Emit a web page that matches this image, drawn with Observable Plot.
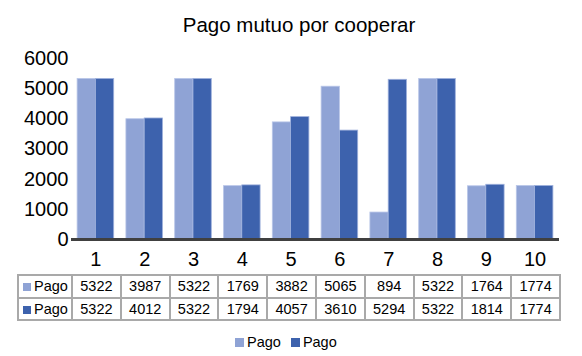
<!DOCTYPE html>
<html>
<head>
<meta charset="utf-8">
<script src="https://cdn.jsdelivr.net/npm/d3@7"></script>
<script src="https://cdn.jsdelivr.net/npm/@observablehq/plot@0.6"></script>
<style>
  html, body { margin: 0; padding: 0; background: #fff; }
  body { font-family: "Liberation Sans", Arial, sans-serif; }
  #wrap { position: relative; width: 582px; height: 356px; overflow: hidden; }
  #title { position: absolute; left: 8px; top: 11px; width: 582px; height: 28px; line-height: 28px; text-align: center; font-size: 20.5px; color: #000; }
  #chart { position: absolute; left: 0; top: 37px; }
  #table { position: absolute; left: 17px; top: 274px; border-collapse: collapse; table-layout: fixed; font-size: 14.5px; }
  #table td { border: 2px solid #a9a9a9; height: 20.5px; padding: 0; text-align: center; color: #000; white-space: nowrap; }
  #table td.lab { text-align: left; padding-left: 4px; }
  .sw { display: inline-block; width: 8px; height: 8px; margin-right: 3px; vertical-align: 0px; }
  #legend { position: absolute; left: 235px; top: 333px; font-size: 14.5px; line-height: 18px; white-space: nowrap; }
  #legend span.item { margin-right: 10px; }
  #legend .sw { width: 9px; height: 9px; margin-right: 3px; }
</style>
</head>
<body>
<div id="wrap">
  <div id="title"></div>
  <div id="chart"></div>
  <table id="table"></table>
  <div id="legend"></div>
</div>
<script>
const titleText = "Pago mutuo por cooperar";
const categories = ["1", "2", "3", "4", "5", "6", "7", "8", "9", "10"];
const seriesNames = ["Pago", "Pago"];
const pago1 = [5322, 3987, 5322, 1769, 3882, 5065, 894, 5322, 1764, 1774];
const pago2 = [5322, 4012, 5322, 1794, 4057, 3610, 5294, 5322, 1814, 1774];
const yTicks = [0, 1000, 2000, 3000, 4000, 5000, 6000];
const colors = ["#8fa3d5", "#3d62ad"];

document.getElementById("title").textContent = titleText;

const rows1 = categories.map((c, i) => ({cat: c, value: pago1[i]}));
const rows2 = categories.map((c, i) => ({cat: c, value: pago2[i]}));

const width = 582, marginLeft = 71, marginRight = 23;
const step = (width - marginLeft - marginRight) / categories.length;
const bandW = step * 0.75;
const half = bandW / 2;

const chart = Plot.plot({
  width,
  height: 233,
  marginLeft,
  marginRight,
  marginTop: 21,
  marginBottom: 31,
  style: {fontFamily: "Liberation Sans, Arial, sans-serif", fontSize: "20px", color: "#000", background: "transparent"},
  x: {domain: categories, type: "band", paddingInner: 0.25, paddingOuter: 0.125, round: false},
  y: {domain: [0, 6000]},
  marks: [
    Plot.barY(rows1, {x: "cat", y: "value", fill: colors[0], stroke: "#b9c6e8", strokeWidth: 0.8, insetRight: half}),
    Plot.barY(rows2, {x: "cat", y: "value", fill: colors[1], stroke: "#9fb1dc", strokeWidth: 0.8, insetLeft: half}),
    Plot.ruleY([0], {stroke: "#404040", strokeWidth: 3}),
    Plot.axisY({ticks: yTicks, tickSize: 0, tickPadding: 3, tickFormat: d => String(d), fontSize: 20, label: null}),
    Plot.axisX({tickSize: 0, tickPadding: 12, fontSize: 20, label: null})
  ]
});
document.getElementById("chart").appendChild(chart);

// data table
const table = document.getElementById("table");
const colgroup = document.createElement("colgroup");
const c0 = document.createElement("col"); c0.style.width = "54px"; colgroup.appendChild(c0);
categories.forEach(() => { const c = document.createElement("col"); c.style.width = step + "px"; colgroup.appendChild(c); });
table.appendChild(colgroup);
table.style.width = (54 + step * categories.length) + "px";
[pago1, pago2].forEach((vals, si) => {
  const tr = document.createElement("tr");
  const lab = document.createElement("td");
  lab.className = "lab";
  lab.innerHTML = `<span class="sw" style="background:${colors[si]}"></span>`;
  lab.appendChild(document.createTextNode(seriesNames[si]));
  tr.appendChild(lab);
  vals.forEach(v => { const td = document.createElement("td"); td.textContent = v; tr.appendChild(td); });
  table.appendChild(tr);
});

// legend
const legend = document.getElementById("legend");
seriesNames.forEach((n, i) => {
  const s = document.createElement("span");
  s.className = "item";
  s.innerHTML = `<span class="sw" style="background:${colors[i]}"></span>`;
  s.appendChild(document.createTextNode(n));
  legend.appendChild(s);
});
</script>
</body>
</html>
